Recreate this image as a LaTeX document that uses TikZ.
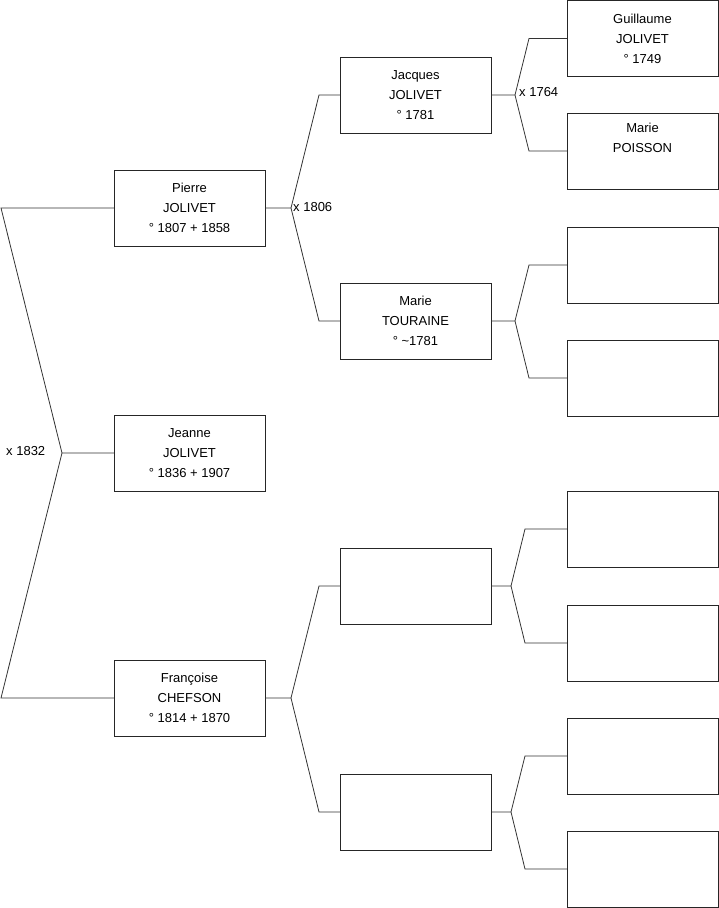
\documentclass[tikz,border=0pt]{standalone}
\usepackage{fontspec}
\setmainfont{Liberation Sans}
\begin{document}
\begin{tikzpicture}[x=1pt,y=-1pt,
  person/.style={draw=black!85, line width=0.9pt, minimum width=151pt, minimum height=76pt,
    inner sep=0pt, outer sep=0pt, anchor=north west, align=center, font=\fontsize{13}{20}\selectfont},
  link/.style={draw=black!80, line width=0.8pt},
  marr/.style={anchor=west, inner sep=0pt, font=\fontsize{13}{14}\selectfont}]
\useasboundingbox (0,0) rectangle (719,908);
% level 1
\node[person] (pierre) at (114,170) {Pierre\\JOLIVET\\° 1807 + 1858};
\node[person] (jeanne) at (114,415) {Jeanne\\JOLIVET\\° 1836 + 1907};
\node[person] (francoise) at (114,660) {Françoise\\CHEFSON\\° 1814 + 1870};
% level 2
\node[person] (jacques) at (340,57) {Jacques\\JOLIVET\\° 1781};
\node[person] (touraine) at (340,283) {Marie\\TOURAINE\\° \textasciitilde1781};
\node[person] (e1) at (340,548) {};
\node[person] (e2) at (340,774) {};
% level 3
\node[person] (g1) at (567,0.5) {Guillaume\\JOLIVET\\° 1749};
\node[person] (g2) at (567,113) {Marie\\POISSON\\\strut};
\node[person] (g3) at (567,227) {};
\node[person] (g4) at (567,340) {};
\node[person] (g5) at (567,491) {};
\node[person] (g6) at (567,605) {};
\node[person] (g7) at (567,718) {};
\node[person] (g8) at (567,831) {};
% root connectors
\coordinate (a0) at (62,453);
\coordinate (t0) at (1,208);
\coordinate (b0) at (1,698);
\draw[link] (pierre.west) -- (t0) -- (a0) -- (jeanne.west);
\draw[link] (a0) -- (b0) -- (francoise.west);
\node[marr] (m0) at (6,451) {x 1832};
% Pierre
\coordinate (a1) at (291,208);
\draw[link] (pierre.east) -- (a1) -- (319,95) -- (jacques.west);
\draw[link] (a1) -- (319,321) -- (touraine.west);
\node[marr] (m1) at (293,207) {x 1806};
% Francoise
\coordinate (a2) at (291,698);
\draw[link] (francoise.east) -- (a2) -- (319,586) -- (e1.west);
\draw[link] (a2) -- (319,812) -- (e2.west);
% Jacques
\coordinate (a3) at (515,95);
\draw[link] (jacques.east) -- (a3) -- (529,38.5) -- (g1.west);
\draw[link] (a3) -- (529,151) -- (g2.west);
\node[marr] (m3) at (519,92) {x 1764};
% Touraine
\coordinate (a4) at (515,321);
\draw[link] (touraine.east) -- (a4) -- (529,265) -- (g3.west);
\draw[link] (a4) -- (529,378) -- (g4.west);
% e1
\coordinate (a5) at (511,586);
\draw[link] (e1.east) -- (a5) -- (525,529) -- (g5.west);
\draw[link] (a5) -- (525,643) -- (g6.west);
% e2
\coordinate (a6) at (511,812);
\draw[link] (e2.east) -- (a6) -- (525,756) -- (g7.west);
\draw[link] (a6) -- (525,869) -- (g8.west);
\end{tikzpicture}
\end{document}
